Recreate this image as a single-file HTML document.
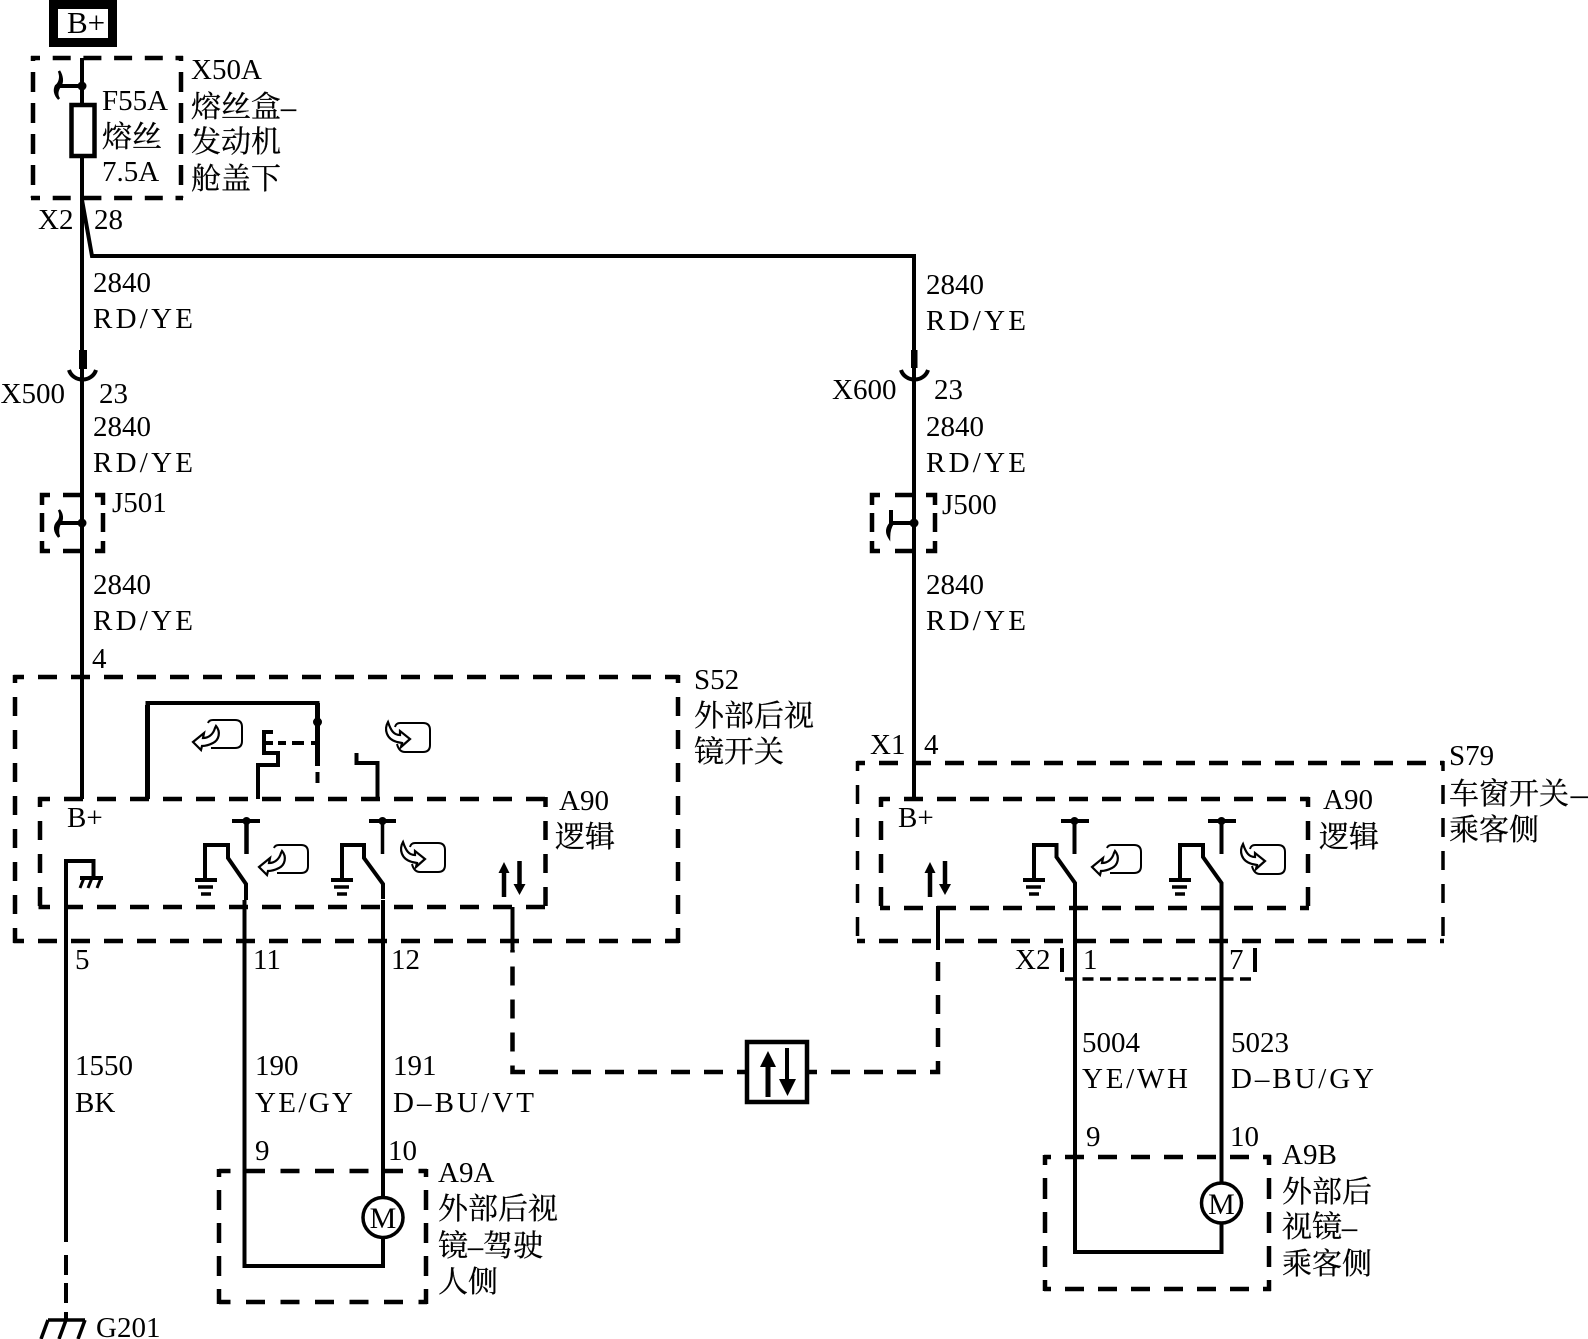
<!DOCTYPE html>
<html><head><meta charset="utf-8"><style>
html,body{margin:0;padding:0;background:#fff;width:1588px;height:1339px;overflow:hidden}
svg{display:block}
text{font-family:"Liberation Serif","Noto Serif CJK SC",serif;font-size:29px;fill:#000}
text.c{font-size:30px;stroke:#000;stroke-width:.25px}
.w{fill:none;stroke:#000;stroke-width:4}
.d{fill:none;stroke:#000;stroke-width:4.5;stroke-dasharray:19 14;stroke-dashoffset:9}
</style></head><body>
<svg width="1588" height="1339" viewBox="0 0 1588 1339" xmlns="http://www.w3.org/2000/svg">
<defs>
<g id="ia"><path d="M3 3Q4 0 8 0H30Q37 0 37 7V21Q37 28 30 28H6" fill="none" stroke="#000" stroke-width="2"/><path d="M11 6C16 12 14 20 8 23C4 25 0 26-3 26L-4 30L-12 22L-1 13L-2 18C3 18 8 15 10 8Z" fill="none" stroke="#000" stroke-width="2.2"/></g>
<g id="ib"><path d="M-2 4Q-1 0 3 0H26Q33 0 33 7V22Q33 29 26 29H8Q2 29 0 21" fill="none" stroke="#000" stroke-width="2"/><path d="M-9-1C-13 6-11 16 0 19L5 20L4 24L13 16L3 8L3 12C-3 12-6 8-9-1Z" fill="none" stroke="#000" stroke-width="2.2"/></g>
<g id="gnd"><path d="M0 0H22" stroke="#000" stroke-width="4"/><path d="M3 7H18" stroke="#000" stroke-width="3.5"/><path d="M6 14H16" stroke="#000" stroke-width="3.5"/></g>
</defs>

<!-- B+ -->
<rect x="53.500" y="4.500" width="59" height="38" fill="none" stroke="#000" stroke-width="9"/>
<text x="67" y="33" style="font-size:31px">B+</text>

<!-- X50A fuse box -->
<g fill="none" stroke="#000" stroke-width="4.5">
<path d="M31 58H183" stroke-dasharray="18 12.7" stroke-dashoffset="9"/>
<path d="M31 198H183" stroke-dasharray="18 12.7" stroke-dashoffset="9"/>
<path d="M33 56V198" stroke-dasharray="20 11" stroke-dashoffset="15"/>
<path d="M181 56V198" stroke-dasharray="20 11" stroke-dashoffset="15"/>
</g>
<path class="w" d="M82 58V355M82 200L92 256H914V355"/>
<circle cx="82" cy="86" r="4.5"/>
<path class="w" d="M82 86H60"/>
<path d="M59 71C62 78 59 84 56 86C54 90 55 95 59 99C56 95 57 90 60 86C63 82 62 76 59 71Z" stroke="#000" stroke-width="2.5"/>
<rect x="71.500" y="105" width="23" height="51" fill="#fff" stroke="#000" stroke-width="4.500"/>
<text x="102" y="110">F55A</text>
<text class="c" x="102" y="147">熔丝</text>
<text x="102" y="181">7.5A</text>
<text x="191" y="79">X50A</text>
<text class="c" x="191" y="117">熔丝盒–</text>
<text class="c" x="191" y="152">发动机</text>
<text class="c" x="191" y="189">舱盖下</text>
<text x="38" y="229">X2</text>
<text x="94" y="229">28</text>

<!-- Left column -->
<text x="93" y="292">2840</text>
<text x="93" y="328" textLength="100">RD/YE</text>
<path d="M82 350V799" class="w"/>
<rect x="79" y="350" width="8" height="19"/>
<path d="M69 370A14 13 0 0 0 96 370" fill="none" stroke="#000" stroke-width="4"/>
<text x="0.500" y="403">X500</text>
<text x="99" y="403">23</text>
<text x="93" y="436">2840</text>
<text x="93" y="472" textLength="100">RD/YE</text>
<path d="M50 495H42V505M63 495H82M95 495H103V505M42 513V532M103 513V532M42 541V551H50M63 551H82M95 551H103V541" fill="none" stroke="#000" stroke-width="4.500"/>
<circle cx="82" cy="523" r="4.500"/>
<path class="w" d="M82 523H60"/>
<path d="M59 510C62 516 60 520 57 523C54 527 55 532 59 537C57 532 58 527 60 523C63 519 62 514 59 510Z" stroke="#000" stroke-width="2.500"/>
<text x="112" y="512">J501</text>
<text x="93" y="594">2840</text>
<text x="93" y="630" textLength="100">RD/YE</text>
<text x="92" y="668">4</text>

<!-- S52 -->
<path class="d" style="stroke-dashoffset:8.5" d="M13.500 677H679"/>
<path class="d" style="stroke-dashoffset:8.5" d="M13.500 941H679"/>
<path class="d" style="stroke-dashoffset:11" d="M15 675V943"/>
<path class="d" style="stroke-dashoffset:11" d="M678 675V943"/>
<text x="694" y="689">S52</text>
<text class="c" x="694" y="726">外部后视</text>
<text class="c" x="694" y="762">镜开关</text>
<!-- A90 L -->
<path class="d" style="stroke-dashoffset:7.500" d="M38.500 799H547"/>
<path class="d" style="stroke-dashoffset:7.500" d="M38.500 907H547"/>
<path class="d" d="M40 797V909"/>
<path class="d" d="M545.500 797V909"/>
<text x="559" y="810">A90</text>
<text class="c" x="555" y="847">逻辑</text>
<text x="67" y="827">B+</text>

<path d="M147.500 799V703H317.500V766" fill="none" stroke="#000" stroke-width="4"/>
<path d="M147.500 799V705" stroke="#000" stroke-width="5"/>
<path d="M317.500 703V766" stroke="#000" stroke-width="5"/>
<path d="M317.500 772V783" stroke="#000" stroke-width="4"/>
<circle cx="317.500" cy="722" r="4.500"/>
<path d="M273 732H264V753H278V765H258V799" fill="none" stroke="#000" stroke-width="4"/>
<path d="M264 743H273" stroke="#000" stroke-width="4"/>
<path d="M278 743H286M292 743H304M311 743H317" stroke="#000" stroke-width="4"/>
<path d="M356.500 753V763H377.500V799" fill="none" stroke="#000" stroke-width="4"/>
<use href="#ia" x="205" y="720"/>
<use href="#ib" x="397" y="723"/>
<!-- switches L -->
<path d="M232 821H260M369 821H396" stroke="#000" stroke-width="4"/>
<circle cx="246.500" cy="821" r="4"/><circle cx="382.500" cy="821" r="4"/>
<path d="M246.500 821V854" stroke="#000" stroke-width="4.500"/>
<path d="M382.500 821V854" stroke="#000" stroke-width="3.500"/>
<path class="w" d="M205 880V845H228V858L246 884V900M244.500 900V1266H383V1237M383 1197V900M383 899V884L364 858V845H342V880"/>
<use href="#gnd" x="195" y="880"/><use href="#gnd" x="331" y="880"/>
<use href="#ia" x="271" y="845"/>
<use href="#ib" x="412" y="843"/>
<!-- bus arrows L -->
<path d="M504 897V870" stroke="#000" stroke-width="4.500"/><path d="M498.500 873L504 862L509.500 873Z"/>
<path d="M519.500 861V886" stroke="#000" stroke-width="4.500"/><path d="M513.500 884H525.500L519.500 895Z"/>
<path class="w" d="M512.500 907V950"/>
<!-- ground -->
<path class="w" d="M66 1242V861H93.500V878"/>
<path d="M80 878H103" stroke="#000" stroke-width="4"/>
<path d="M84 878L80 888M92 878L88 888M101 878L97 888" stroke="#000" stroke-width="3"/>
<path d="M66 1255V1275M66 1283V1303M66 1312V1320" stroke="#000" stroke-width="4"/>
<path d="M48 1320H85M48 1320L41 1339M66 1320L59 1339M85 1320L78 1339" fill="none" stroke="#000" stroke-width="3.500"/>
<text x="96" y="1337">G201</text>
<text x="75" y="969">5</text><text x="253" y="969">11</text><text x="391" y="969">12</text>
<text x="75" y="1075">1550</text><text x="75" y="1112">BK</text>
<text x="255" y="1075">190</text><text x="255" y="1112" textLength="98">YE/GY</text>
<text x="393" y="1075">191</text><text x="393" y="1112" textLength="141">D–BU/VT</text>
<text x="255" y="1160">9</text><text x="388" y="1160">10</text>

<!-- A9A -->
<g fill="none" stroke="#000" stroke-width="4.500">
<path d="M219 1171H427" stroke-dasharray="19 15.500" stroke-dashoffset="7.500"/>
<path d="M219 1302H427" stroke-dasharray="19 15.500" stroke-dashoffset="7.500"/>
<path d="M219 1169V1304" stroke-dasharray="20 13" stroke-dashoffset="12"/>
<path d="M426 1169V1304" stroke-dasharray="20 13" stroke-dashoffset="12"/>
</g>
<circle cx="383" cy="1217.500" r="20" fill="#fff" stroke="#000" stroke-width="3.500"/>
<text x="383" y="1228" text-anchor="middle" style="font-size:30px">M</text>
<text x="438" y="1182">A9A</text>
<text class="c" x="438" y="1219">外部后视</text>
<text class="c" x="438" y="1256">镜–驾驶</text>
<text class="c" x="438" y="1292">人侧</text>

<!-- bus -->
<path class="d" style="stroke-dashoffset:11" d="M745 1072H512.500V950"/>
<path class="d" style="stroke-dashoffset:11" d="M809 1072H938V950"/>
<rect x="747" y="1042" width="60" height="60" fill="#fff" stroke="#000" stroke-width="4.500"/>
<path d="M768 1097V1064" stroke="#000" stroke-width="5"/><path d="M760 1067L768 1051L776 1067Z"/>
<path d="M787 1048V1082" stroke="#000" stroke-width="4"/><path d="M779 1079H796L787.500 1096Z"/>

<!-- Right column -->
<text x="926" y="294">2840</text>
<text x="926" y="330" textLength="100">RD/YE</text>
<path class="w" d="M914 350V799"/>
<rect x="911" y="350" width="6.500" height="18"/>
<path d="M901 370A14 13 0 0 0 928 370" fill="none" stroke="#000" stroke-width="4"/>
<text x="832" y="399">X600</text>
<text x="934" y="399">23</text>
<text x="926" y="436">2840</text>
<text x="926" y="472" textLength="100">RD/YE</text>
<path d="M880 495H872V505M895 495H914M926 495H935V505M872 513V532M935 513V532M872 541V551H880M895 551H914M926 551H935V541" fill="none" stroke="#000" stroke-width="4.500"/>
<circle cx="914" cy="523" r="4.500"/>
<path class="w" d="M914 523H891V510"/>
<path d="M891 523C887 527 886 532 889 537C889 532 890 527 893 523Z" stroke="#000" stroke-width="2.500"/>
<text x="942" y="514">J500</text>
<text x="926" y="594">2840</text>
<text x="926" y="630" textLength="100">RD/YE</text>
<text x="870" y="754">X1</text><text x="924" y="754">4</text>

<!-- S79 -->
<path class="d" style="stroke-dashoffset:11" d="M857 763H1444"/>
<path class="d" style="stroke-dashoffset:11" d="M857 941H1444"/>
<path class="d" style="stroke-width:3.500" d="M857.500 761V943"/>
<path class="d" style="stroke-width:3.500" d="M1443 761V943"/>
<text x="1449" y="765">S79</text>
<text class="c" x="1449" y="804">车窗开关<tspan dx="2" textLength="28" lengthAdjust="spacingAndGlyphs">–</tspan></text>
<text class="c" x="1449" y="840">乘客侧</text>
<!-- A90 R -->
<path class="d" d="M880 799H1309"/>
<path class="d" d="M880 908H1309"/>
<path class="d" d="M881 797V910"/>
<path class="d" d="M1308 797V910"/>
<text x="1323" y="809">A90</text>
<text class="c" x="1319" y="847">逻辑</text>
<text x="898" y="827">B+</text>
<!-- switches R -->
<path d="M1061 821H1089M1208 821H1236" stroke="#000" stroke-width="4"/>
<circle cx="1074.500" cy="821" r="4"/><circle cx="1221.500" cy="821" r="4"/>
<path d="M1074.500 821V854M1221.500 821V854" stroke="#000" stroke-width="4"/>
<path class="w" d="M1034 880V845H1056.500V857L1075 883V1252H1221.500V1223M1221.500 1183V883L1203 857V845H1180V880"/>
<use href="#gnd" x="1023" y="880"/><use href="#gnd" x="1169" y="880"/>
<use href="#ia" x="1104" y="845"/>
<use href="#ib" x="1252" y="845"/>
<path d="M930 897V870" stroke="#000" stroke-width="4.500"/><path d="M924.500 873L930 862L935.500 873Z"/>
<path d="M945 861V886" stroke="#000" stroke-width="4.500"/><path d="M939 884H951L945 895Z"/>
<path class="w" d="M938 950V908H955"/>
<!-- X2 small -->
<path d="M1062 948V972M1255 948V972" stroke="#000" stroke-width="4"/>
<path d="M1065 979H1252" fill="none" stroke="#000" stroke-width="3.500" stroke-dasharray="11 6.500"/>
<text x="1015" y="969">X2</text><text x="1083" y="969">1</text><text x="1229" y="969">7</text>
<text x="1082" y="1052">5004</text><text x="1082" y="1088" textLength="106">YE/WH</text>
<text x="1231" y="1052">5023</text><text x="1231" y="1088" textLength="143">D–BU/GY</text>
<text x="1086" y="1146">9</text><text x="1230" y="1146">10</text>

<!-- A9B -->
<g fill="none" stroke="#000" stroke-width="4.500">
<path d="M1044 1157H1271" stroke-dasharray="19 14" stroke-dashoffset="12"/>
<path d="M1044 1289H1271" stroke-dasharray="19 14" stroke-dashoffset="12"/>
<path d="M1045 1155V1291" stroke-dasharray="21 13" stroke-dashoffset="11"/>
<path d="M1269 1155V1291" stroke-dasharray="21 13" stroke-dashoffset="11"/>
</g>
<circle cx="1221.500" cy="1203" r="20" fill="#fff" stroke="#000" stroke-width="3.500"/>
<text x="1221.500" y="1214" text-anchor="middle" style="font-size:30px">M</text>
<text x="1282" y="1164">A9B</text>
<text class="c" x="1282" y="1202">外部后</text>
<text class="c" x="1282" y="1237">视镜–</text>
<text class="c" x="1282" y="1274">乘客侧</text>
</svg>
</body></html>
